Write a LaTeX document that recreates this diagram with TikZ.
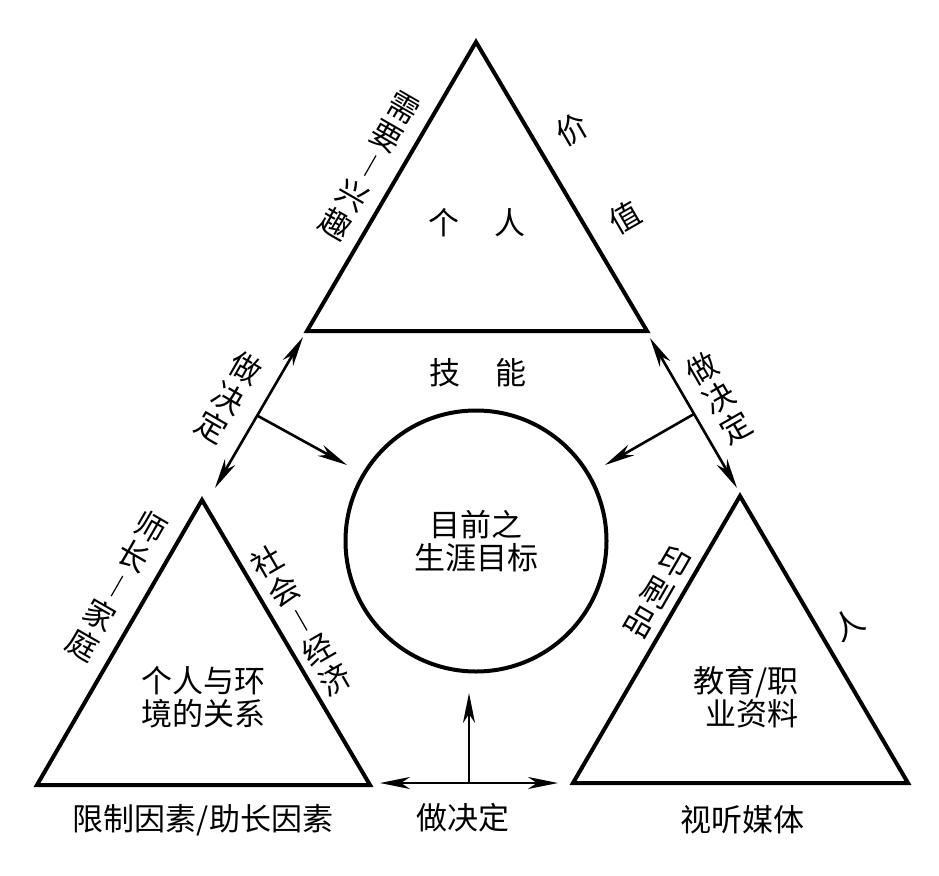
\documentclass[tikz,border=0pt]{standalone}
\usepackage{fontspec}
\setmainfont{Noto Sans CJK SC}
\usetikzlibrary{arrows.meta}
\newcommand{\mybar}{\rule{1.2pt}{0.75em}}
\begin{document}
\begin{tikzpicture}[x=1pt,y=-1pt,
  tri/.style={line width=4pt, line join=miter},
  tip/.tip={Stealth[length=30pt,width=12pt,inset=9pt]},
  arr/.style={line width=2.6pt, -tip},
  darr/.style={line width=2.6pt, tip-tip},
  lab/.style={font=\fontsize{31}{34}\selectfont, inner sep=0pt, align=center},
]
\useasboundingbox[fill=white] (0,0) rectangle (939,875);
% triangles
\coordinate (tA) at (476,42);  \coordinate (tL) at (307,331); \coordinate (tR) at (647,331);
\coordinate (lA) at (202,500); \coordinate (lL) at (37,785);  \coordinate (lR) at (370,785);
\coordinate (rA) at (740,496); \coordinate (rL) at (573,783); \coordinate (rR) at (908,783);
\draw[tri] (tA) -- (tL) -- (tR) -- cycle;
\draw[tri] (lA) -- (lL) -- (lR) -- cycle;
\draw[tri] (rA) -- (rL) -- (rR) -- cycle;
% circle
\node[draw, circle, line width=4pt, minimum size=261pt, inner sep=0pt, lab,
      font=\fontsize{31}{33}\selectfont] (goal) at (476,541) {目前之\\生涯目标};
% arrows
\coordinate (la1) at (303,337); \coordinate (la2) at (215,488);
\coordinate (lm) at (258,416);  \coordinate (lb) at (347,465);
\coordinate (ra1) at (650,338); \coordinate (ra2) at (737,488);
\coordinate (rm) at (694,414);  \coordinate (rb) at (605,465);
\coordinate (ba1) at (380,783); \coordinate (ba2) at (558,783);
\coordinate (bm) at (469,783);  \coordinate (bt) at (469,693);
\draw[darr] (la1) -- (la2); \draw[arr] (lm) -- (lb);
\draw[darr] (ra1) -- (ra2); \draw[arr] (rm) -- (rb);
\draw[darr] (ba1) -- (ba2); \draw[arr] (bm) -- (bt);
% labels
\node[lab] (ge) at (477,223) {个\hspace{1.1em}人};
\node[lab] (jn) at (478,373) {技\hspace{1.1em}能};
\node[lab, rotate=-30] (xq) at (370,166) {需\\要\\\mybar\\兴\\趣};
\node[lab, rotate=30] (jia) at (572,130) {价};
\node[lab, rotate=30] (zhi) at (625,218) {值};
\node[lab, rotate=-30] (dl) at (229,398) {做\\决\\定};
\node[lab, rotate=30] (dr) at (719,398) {做\\决\\定};
\node[lab, rotate=-30] (sz) at (117,586) {师\\长\\\mybar\\家\\庭};
\node[lab, rotate=30] (sh) at (301,620) {社\\会\\\mybar\\经\\济};
\node[lab, font=\fontsize{31}{33}\selectfont] (gr) at (203,697) {个人与环\\境的关系};
\node[lab] (xz) at (203,820) {限制因素/助长因素};
\node[lab, rotate=-30] (ys) at (658,592) {印\\刷\\品};
\node[lab, rotate=30] (ren) at (848,625) {人};
\node[lab, align=right, anchor=east, font=\fontsize{31}{31}\selectfont] (jy) at (799,697) {教育/职\\业资料};
\node[lab] (st) at (742,820) {视听媒体};
\node[lab] (zd) at (463,818) {做决定};
\end{tikzpicture}
\end{document}
